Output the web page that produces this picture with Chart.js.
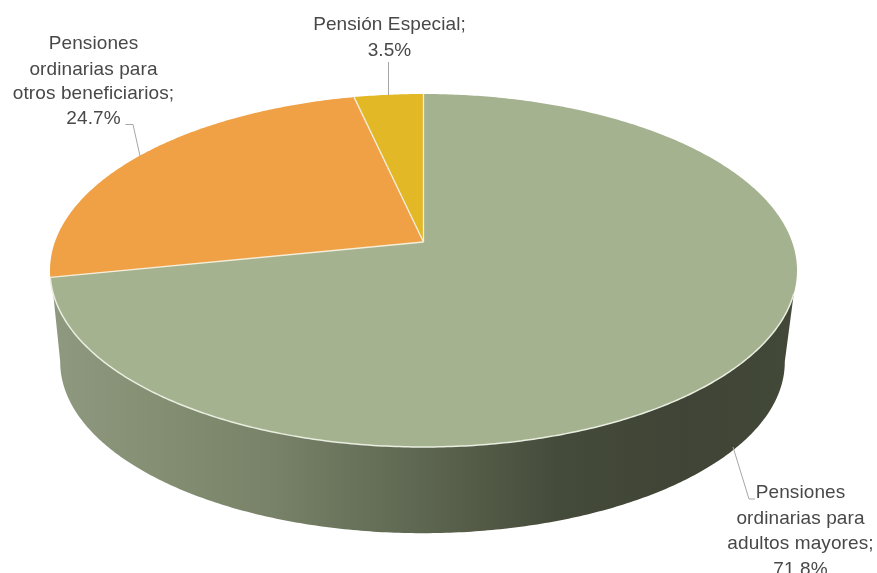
<!DOCTYPE html>
<html lang="es">
<head>
<meta charset="utf-8">
<title>Pensiones</title>
<style>
  html, body { margin: 0; padding: 0; background: #fff; overflow: hidden; }
  #grafico { display: block; }
</style>
<script src="https://cdn.jsdelivr.net/npm/chart.js@4"></script>
</head>
<body>
<div style="width:877px;height:573px"><canvas id="grafico"></canvas></div>
<script>
const categorias = ['Pensiones ordinarias para adultos mayores', 'Pensiones ordinarias para otros beneficiarios', 'Pensión Especial'];
const valores = [71.8, 24.7, 3.5];
const colores = ['#a5b28f', '#f0a146', '#e3b826'];
const lineasEtiqueta = [
  ['Pensiones', 'ordinarias para', 'adultos mayores;'],
  ['Pensiones', 'ordinarias para', 'otros beneficiarios;'],
  ['Pensión Especial;']
];

// disco superior: círculo unidad proyectado en perspectiva
const cx = 423.5, ejeA = 368.6, apiceY = 242, ejeB = 132.8, fuga = -0.1615;
function proyectar(ang) {
  const u = Math.cos(ang), v = Math.sin(ang);
  const d = 1 + fuga * v;
  return { x: cx + ejeA * u / d, y: (apiceY + ejeB * v) / d };
}
// borde inferior del cilindro, mismo contorno reducido y desplazado
function proyectarBase(ang) {
  const p = proyectar(ang);
  return { x: cx - 1 + (p.x - cx) * 0.97, y: 362 + (p.y - 270.5) * 0.97 };
}
function trazar(ctx, f, desde, hasta) {
  const pasos = Math.max(2, Math.ceil(Math.abs(hasta - desde) / 0.01));
  for (let i = 0; i <= pasos; i++) {
    const p = f(desde + (hasta - desde) * i / pasos);
    ctx.lineTo(p.x, p.y);
  }
}

const pieEnPerspectiva = {
  id: 'pieEnPerspectiva',
  beforeDatasetsDraw(chart) {
    const ctx = chart.ctx;
    const arcos = chart.getDatasetMeta(0).data;

    // pared lateral
    const grad = ctx.createLinearGradient(50, 0, 797, 0);
    grad.addColorStop(0, '#8f9980');
    grad.addColorStop(0.15, '#848e72');
    grad.addColorStop(0.3, '#778268');
    grad.addColorStop(0.5, '#5d6650');
    grad.addColorStop(0.68, '#454b3a');
    grad.addColorStop(0.85, '#3f4436');
    grad.addColorStop(1, '#434938');
    const angDer = 0.29, angIzq = Math.PI - 0.29;
    ctx.beginPath();
    const ini = proyectar(angDer);
    ctx.moveTo(ini.x, ini.y);
    trazar(ctx, proyectarBase, 0.16, Math.PI - 0.16);
    const fin = proyectar(angIzq);
    ctx.lineTo(fin.x, fin.y);
    ctx.closePath();
    ctx.fillStyle = grad;
    ctx.fill();

    // porciones
    arcos.forEach((arco, i) => {
      ctx.beginPath();
      ctx.moveTo(cx, apiceY);
      trazar(ctx, proyectar, arco.startAngle, arco.endAngle);
      ctx.closePath();
      ctx.fillStyle = colores[i];
      ctx.fill();
    });

    // separaciones entre porciones
    ctx.strokeStyle = '#f4efdc';
    ctx.lineWidth = 1.3;
    arcos.forEach(arco => {
      const p = proyectar(arco.startAngle);
      ctx.beginPath();
      ctx.moveTo(cx, apiceY);
      ctx.lineTo(p.x, p.y);
      ctx.stroke();
    });

    // brillo en el canto frontal
    ctx.strokeStyle = '#e9eee0';
    ctx.lineWidth = 1.5;
    ctx.beginPath();
    trazar(ctx, proyectar, angDer, Math.PI - 0.2);
    ctx.stroke();

    return false;
  },
  afterDraw(chart) {
    const ctx = chart.ctx;
    // guías de las etiquetas
    ctx.strokeStyle = '#a6a6a6';
    ctx.lineWidth = 1;
    [
      [[733, 447], [749, 499], [755, 499]],
      [[125.5, 124.5], [133, 124.5], [140, 156]],
      [[388.5, 62], [388.5, 95]]
    ].forEach(guia => {
      ctx.beginPath();
      guia.forEach((p, i) => i ? ctx.lineTo(p[0], p[1]) : ctx.moveTo(p[0], p[1]));
      ctx.stroke();
    });

    // etiquetas
    ctx.fillStyle = '#484848';
    ctx.font = '19px "Liberation Sans"';
    ctx.letterSpacing = '0.1px';
    ctx.textAlign = 'center';
    ctx.textBaseline = 'alphabetic';
    const anclas = [
      { x: 800.5, y: [498, 524, 549, 575] },
      { x: 93.5, y: [49, 75, 99, 124] },
      { x: 389.5, y: [30, 56] }
    ];
    lineasEtiqueta.forEach((lineas, i) => {
      const texto = lineas.concat(valores[i].toFixed(1) + '%');
      texto.forEach((t, j) => ctx.fillText(t, anclas[i].x, anclas[i].y[j]));
    });
  }
};

new Chart(document.getElementById('grafico'), {
  type: 'pie',
  data: {
    labels: categorias,
    datasets: [{ data: valores, backgroundColor: colores, borderWidth: 0 }]
  },
  options: {
    responsive: true,
    maintainAspectRatio: false,
    animation: false,
    plugins: { legend: { display: false }, tooltip: { enabled: false } }
  },
  plugins: [pieEnPerspectiva]
});
</script>
</body>
</html>
